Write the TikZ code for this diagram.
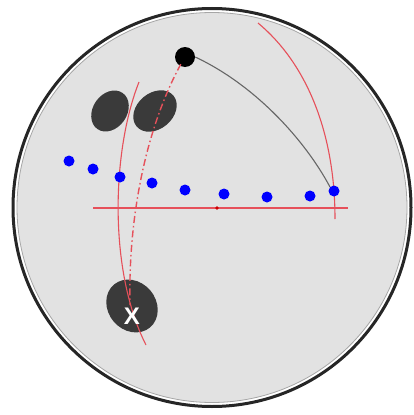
\documentclass[tikz,border=0pt]{standalone}
\usepackage{fontspec}
\setmainfont{Liberation Sans}
\begin{document}
\begin{tikzpicture}[x=1pt,y=-1pt,
  redl/.style={draw={rgb,255:red,230;green,80;blue,90},line width=1.1pt},
  bdot/.style={circle,fill=blue,inner sep=0pt,minimum size=11pt},
  blob/.style={fill={rgb,255:red,58;green,58;blue,58}}]
\useasboundingbox (0,0) rectangle (413,415);
% plate
\fill[white] (212,207.5) circle[radius=200pt];
\draw[line width=3pt,black!85] (212,207.5) circle[radius=199pt];
\draw[fill={rgb,255:red,226;green,226;blue,226},draw=gray!70,line width=0.8pt] (212,207.5) circle[radius=195pt];
% ellipses
\fill[blob] (110,111) ellipse[x radius=22pt,y radius=17pt,rotate=55];
\fill[blob] (155,111) ellipse[x radius=24pt,y radius=18pt,rotate=40];
\fill[blob] (132,306) ellipse[x radius=28pt,y radius=24pt,rotate=-50];
% horizontal red line
\coordinate (hl) at (93,208);
\coordinate (hr) at (348,208);
\draw[redl] (hl) -- (hr);
\fill[red!80!black] (217,208) circle[radius=1.8pt];
% right red arc
\coordinate (ra) at (258,23);
\coordinate (rb) at (335,219);
\draw[redl] (ra) .. controls (305,62) and (335,130) .. (rb);
% left red arc
\coordinate (la) at (139,82);
\coordinate (lb) at (146,345);
\draw[redl] (la) .. controls (112,150) and (108,270) .. (lb);
% black dot
\node[circle,fill=black,inner sep=0pt,minimum size=20pt] (bd) at (185,57) {};
% dash-dot red curve
\coordinate (dd) at (130,305);
\draw[redl,line width=1.4pt,dash pattern=on 7pt off 3pt on 1.5pt off 3pt] (bd.south west) ++(3,0) .. controls (145,130) and (128,220) .. (dd);
% blue dots
\node[bdot] (b1) at (69,161) {};
\node[bdot] (b2) at (93,169) {};
\node[bdot] (b3) at (120,177) {};
\node[bdot] (b4) at (152,183) {};
\node[bdot] (b5) at (185,190) {};
\node[bdot] (b6) at (224,194) {};
\node[bdot] (b7) at (267,197) {};
\node[bdot] (b8) at (310,196) {};
\node[bdot] (b9) at (334,191) {};
% gray curve
\draw[gray!40!black!75,line width=1.1pt] (bd.east) .. controls (255,85) and (305,140) .. (b9.north west);
% X
\node[text=white,font=\bfseries\fontsize{24}{24}\selectfont] (xx) at (132,316) {X};
\end{tikzpicture}
\end{document}
